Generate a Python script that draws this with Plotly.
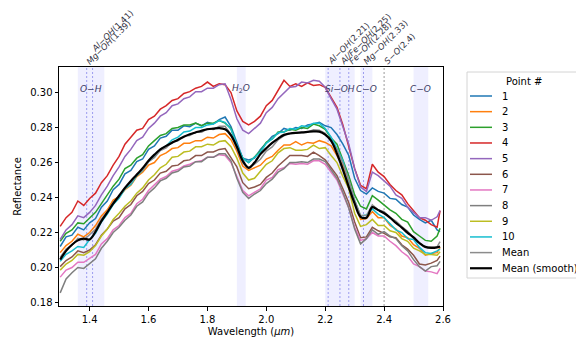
import numpy as np
import plotly.graph_objects as go

# ---------------- data ----------------
WL = [round(1.30 + 0.02 * i, 2) for i in range(65)] + [2.59]

P1 = [0.2120, 0.2175, 0.2185, 0.2230, 0.2215, 0.2255, 0.2280, 0.2345, 0.2380, 0.2445,
      0.2475, 0.2535, 0.2555, 0.2605, 0.2620, 0.2675, 0.2695, 0.2740, 0.2750, 0.2785,
      0.2785, 0.2810, 0.2805, 0.2825, 0.2810, 0.2830, 0.2820, 0.2845, 0.2860, 0.2805,
      0.2715, 0.2625, 0.2615, 0.2625, 0.2675, 0.2710, 0.2750, 0.2765, 0.2795, 0.2785,
      0.2800, 0.2795, 0.2815, 0.2820, 0.2830, 0.2810, 0.2800, 0.2760, 0.2705, 0.2640,
      0.2510, 0.2440, 0.2420, 0.2455, 0.2435, 0.2425, 0.2395, 0.2390, 0.2360, 0.2345,
      0.2300, 0.2275, 0.2255, 0.2270, 0.2215, 0.2205]
P2 = [0.2085, 0.2125, 0.2150, 0.2190, 0.2175, 0.2200, 0.2240, 0.2295, 0.2330, 0.2385,
      0.2405, 0.2445, 0.2470, 0.2520, 0.2545, 0.2585, 0.2600, 0.2640, 0.2655, 0.2680,
      0.2685, 0.2710, 0.2710, 0.2725, 0.2725, 0.2745, 0.2740, 0.2760, 0.2765, 0.2730,
      0.2665, 0.2580, 0.2555, 0.2570, 0.2585, 0.2620, 0.2635, 0.2670, 0.2700, 0.2700,
      0.2720, 0.2700, 0.2715, 0.2710, 0.2725, 0.2715, 0.2695, 0.2640, 0.2580, 0.2475,
      0.2375, 0.2275, 0.2280, 0.2320, 0.2285, 0.2285, 0.2240, 0.2220, 0.2180, 0.2170,
      0.2130, 0.2110, 0.2070, 0.2080, 0.2085, 0.2115]
P3 = [0.2150, 0.2195, 0.2215, 0.2255, 0.2250, 0.2285, 0.2315, 0.2365, 0.2415, 0.2465,
      0.2505, 0.2565, 0.2585, 0.2625, 0.2645, 0.2695, 0.2725, 0.2755, 0.2765, 0.2795,
      0.2800, 0.2815, 0.2815, 0.2825, 0.2810, 0.2825, 0.2825, 0.2840, 0.2825, 0.2795,
      0.2695, 0.2625, 0.2600, 0.2635, 0.2665, 0.2715, 0.2735, 0.2775, 0.2775, 0.2790,
      0.2785, 0.2800, 0.2795, 0.2820, 0.2810, 0.2790, 0.2740, 0.2705, 0.2615, 0.2525,
      0.2415, 0.2350, 0.2335, 0.2410, 0.2385, 0.2355, 0.2330, 0.2310, 0.2275, 0.2260,
      0.2205, 0.2180, 0.2155, 0.2150, 0.2180, 0.2225]
P4 = [0.2235, 0.2285, 0.2315, 0.2380, 0.2355, 0.2395, 0.2425, 0.2485, 0.2525, 0.2585,
      0.2635, 0.2705, 0.2745, 0.2785, 0.2795, 0.2845, 0.2865, 0.2905, 0.2925, 0.2955,
      0.2965, 0.2995, 0.3005, 0.3025, 0.3035, 0.3060, 0.3035, 0.3050, 0.3045, 0.3000,
      0.2895, 0.2835, 0.2815, 0.2835, 0.2865, 0.2925, 0.2955, 0.3010, 0.3070, 0.3035,
      0.3050, 0.3035, 0.3055, 0.3040, 0.3045, 0.3030, 0.2975, 0.2915, 0.2815, 0.2685,
      0.2565, 0.2470, 0.2450, 0.2590, 0.2545, 0.2520, 0.2475, 0.2440, 0.2415, 0.2365,
      0.2325, 0.2285, 0.2270, 0.2245, 0.2230, 0.2325]
P5 = [0.2160, 0.2215, 0.2245, 0.2295, 0.2285, 0.2315, 0.2355, 0.2415, 0.2465, 0.2525,
      0.2575, 0.2635, 0.2675, 0.2725, 0.2745, 0.2795, 0.2825, 0.2865, 0.2885, 0.2925,
      0.2935, 0.2965, 0.2975, 0.3005, 0.3005, 0.3025, 0.3025, 0.3045, 0.3050, 0.2960,
      0.2850, 0.2785, 0.2765, 0.2795, 0.2825, 0.2885, 0.2915, 0.2965, 0.2995, 0.3030,
      0.3035, 0.3060, 0.3055, 0.3070, 0.3065, 0.3030, 0.2965, 0.2905, 0.2805, 0.2705,
      0.2565, 0.2460, 0.2435, 0.2545, 0.2525, 0.2495, 0.2465, 0.2415, 0.2395, 0.2345,
      0.2315, 0.2285, 0.2285, 0.2270, 0.2290, 0.2325]
P6 = [0.2005, 0.2040, 0.2060, 0.2095, 0.2085, 0.2100, 0.2130, 0.2185, 0.2220, 0.2265,
      0.2285, 0.2335, 0.2360, 0.2410, 0.2435, 0.2480, 0.2500, 0.2540, 0.2550, 0.2580,
      0.2585, 0.2610, 0.2615, 0.2640, 0.2640, 0.2660, 0.2660, 0.2675, 0.2680, 0.2630,
      0.2575, 0.2485, 0.2450, 0.2460, 0.2475, 0.2515, 0.2540, 0.2580, 0.2610, 0.2640,
      0.2640, 0.2640, 0.2635, 0.2660, 0.2640, 0.2615, 0.2570, 0.2525, 0.2450, 0.2370,
      0.2260, 0.2170, 0.2175, 0.2230, 0.2210, 0.2195, 0.2175, 0.2170, 0.2130, 0.2105,
      0.2070, 0.2020, 0.2015, 0.2025, 0.2040, 0.2065]
P7 = [0.1945, 0.1985, 0.2000, 0.2030, 0.2030, 0.2050, 0.2075, 0.2135, 0.2165, 0.2215,
      0.2240, 0.2285, 0.2310, 0.2365, 0.2390, 0.2440, 0.2470, 0.2505, 0.2520, 0.2550,
      0.2560, 0.2580, 0.2590, 0.2605, 0.2610, 0.2630, 0.2630, 0.2645, 0.2640, 0.2600,
      0.2520, 0.2440, 0.2410, 0.2430, 0.2450, 0.2500, 0.2515, 0.2560, 0.2570, 0.2595,
      0.2590, 0.2595, 0.2590, 0.2610, 0.2610, 0.2590, 0.2545, 0.2500, 0.2420, 0.2340,
      0.2230, 0.2155, 0.2165, 0.2200, 0.2180, 0.2180, 0.2150, 0.2125, 0.2090, 0.2065,
      0.2020, 0.2005, 0.1980, 0.1975, 0.1965, 0.1995]
P8 = [0.1855, 0.1935, 0.1970, 0.2000, 0.1995, 0.2020, 0.2050, 0.2110, 0.2150, 0.2200,
      0.2230, 0.2270, 0.2300, 0.2350, 0.2375, 0.2425, 0.2455, 0.2495, 0.2510, 0.2540,
      0.2550, 0.2575, 0.2580, 0.2605, 0.2605, 0.2630, 0.2630, 0.2650, 0.2650, 0.2610,
      0.2510, 0.2430, 0.2395, 0.2420, 0.2440, 0.2480, 0.2505, 0.2545, 0.2565, 0.2600,
      0.2600, 0.2605, 0.2600, 0.2620, 0.2620, 0.2605, 0.2560, 0.2510, 0.2430, 0.2340,
      0.2220, 0.2135, 0.2165, 0.2215, 0.2190, 0.2205, 0.2180, 0.2165, 0.2125, 0.2095,
      0.2045, 0.2005, 0.1980, 0.2005, 0.2010, 0.2035]
P9 = [0.1985, 0.2020, 0.2040, 0.2075, 0.2070, 0.2090, 0.2125, 0.2180, 0.2220, 0.2275,
      0.2310, 0.2350, 0.2380, 0.2425, 0.2455, 0.2500, 0.2530, 0.2570, 0.2590, 0.2630,
      0.2635, 0.2660, 0.2665, 0.2690, 0.2690, 0.2705, 0.2700, 0.2720, 0.2725, 0.2690,
      0.2625, 0.2540, 0.2500, 0.2510, 0.2550, 0.2590, 0.2610, 0.2655, 0.2680, 0.2685,
      0.2670, 0.2670, 0.2675, 0.2700, 0.2680, 0.2685, 0.2640, 0.2600, 0.2520, 0.2450,
      0.2310, 0.2235, 0.2245, 0.2275, 0.2240, 0.2240, 0.2210, 0.2200, 0.2165, 0.2150,
      0.2110, 0.2095, 0.2075, 0.2075, 0.2070, 0.2090]
P10 = [0.2035, 0.2075, 0.2095, 0.2120, 0.2115, 0.2160, 0.2195, 0.2260, 0.2305, 0.2360,
       0.2395, 0.2450, 0.2475, 0.2525, 0.2555, 0.2605, 0.2630, 0.2675, 0.2695, 0.2730,
       0.2745, 0.2775, 0.2780, 0.2800, 0.2800, 0.2815, 0.2820, 0.2840, 0.2830, 0.2790,
       0.2700, 0.2625, 0.2600, 0.2630, 0.2660, 0.2710, 0.2735, 0.2770, 0.2775, 0.2795,
       0.2790, 0.2810, 0.2805, 0.2825, 0.2825, 0.2795, 0.2745, 0.2680, 0.2610, 0.2495,
       0.2385, 0.2295, 0.2300, 0.2335, 0.2305, 0.2285, 0.2250, 0.2215, 0.2200, 0.2165,
       0.2160, 0.2115, 0.2085, 0.2080, 0.2095, 0.2105]
MEAN_SMOOTH = [0.2045, 0.2095, 0.2130, 0.2155, 0.2165, 0.2160, 0.2205, 0.2265, 0.2315, 0.2365,
               0.2410, 0.2455, 0.2495, 0.2530, 0.2568, 0.2610, 0.2645, 0.2675, 0.2695, 0.2713,
               0.2730, 0.2748, 0.2762, 0.2772, 0.2782, 0.2790, 0.2794, 0.2797, 0.2790, 0.2755,
               0.2690, 0.2610, 0.2570, 0.2600, 0.2648, 0.2682, 0.2712, 0.2737, 0.2758, 0.2766,
               0.2770, 0.2772, 0.2775, 0.2778, 0.2777, 0.2760, 0.2725, 0.2650, 0.2560, 0.2460,
               0.2365, 0.2290, 0.2285, 0.2345, 0.2328, 0.2310, 0.2285, 0.2255, 0.2228, 0.2198,
               0.2172, 0.2140, 0.2118, 0.2112, 0.2115, 0.2120]

POINT_NAMES = ["1", "2", "3", "4", "5", "6", "7", "8", "9", "10"]
SERIES = [P1, P2, P3, P4, P5, P6, P7, P8, P9, P10]
COLORS = ["#1f77b4", "#ff7f0e", "#2ca02c", "#d62728", "#9467bd",
          "#8c564b", "#e377c2", "#7f7f7f", "#bcbd22", "#17becf"]
MEAN_COLOR = "#8c8c8c"
SMOOTH_COLOR = "black"

BAND_START = [1.36, 1.90, 2.20, 2.32, 2.50]
BAND_END = [1.45, 1.93, 2.30, 2.36, 2.55]
BAND_LABELS = ["<i>O−H</i>", "<i>H</i><sub>2</sub><i>O</i>", "<i>Si−OH</i>", "<i>C−O</i>", "<i>C−O</i>"]

FEATURE_POS = [1.39, 1.41, 2.21, 2.25, 2.28, 2.33, 2.40]
FEATURE_LABELS = ["<i>Mg−OH</i>(1.39)", "<i>Al−OH</i>(1.41)", "<i>Al−OH</i>(2.21)",
                  "<i>Al/Fe−OH</i>(2.25)", "<i>Fe−OH</i>(2.28)", "<i>Mg−OH</i>(2.33)",
                  "<i>S−O</i>(2.4)"]

X_TICKS = [1.4, 1.6, 1.8, 2.0, 2.2, 2.4, 2.6]
X_TICK_TEXT = ["1.4", "1.6", "1.8", "2.0", "2.2", "2.4", "2.6"]
Y_TICKS = [0.18, 0.20, 0.22, 0.24, 0.26, 0.28, 0.30]
Y_TICK_TEXT = ["0.18", "0.20", "0.22", "0.24", "0.26", "0.28", "0.30"]

# ---------------- figure ----------------
FONT = "DejaVu Sans"
W, H = 584, 339
OFF = 8  # the page body adds an 8 px offset; lay out in target-image pixels minus this
PL, PR, PT, PB = 59 - OFF, 443 - OFF, 67 - OFF, 306 - OFF   # plot box in figure pixels
ML, MR, MT, MB = PL, W - PR, PT, H - PB
PW, PH = PR - PL, PB - PT


def px2paper_x(px):
    return (px - OFF - PL) / PW


def px2paper_y(py):
    return (PB - (py - OFF)) / PH


fig = go.Figure()
for name, vals, col in zip(POINT_NAMES, SERIES, COLORS):
    fig.add_trace(go.Scatter(x=WL, y=vals, mode="lines", name=name, showlegend=False,
                             line=dict(color=col, width=1.5)))
mean_vals = np.mean(np.array(SERIES), axis=0)
fig.add_trace(go.Scatter(x=WL, y=mean_vals, mode="lines", name="Mean", showlegend=False,
                         line=dict(color=MEAN_COLOR, width=1.5)))
fig.add_trace(go.Scatter(x=WL, y=MEAN_SMOOTH, mode="lines", name="Mean (smooth)", showlegend=False,
                         line=dict(color=SMOOTH_COLOR, width=2.2, shape="spline")))

shapes = []
annotations = []
for x0, x1, lab in zip(BAND_START, BAND_END, BAND_LABELS):
    shapes.append(dict(type="rect", xref="x", yref="paper", x0=x0, x1=x1, y0=0, y1=1,
                       fillcolor="rgba(110,110,255,0.11)", line=dict(width=0), layer="below"))
    annotations.append(dict(x=(x0 + x1) / 2, y=0.91, xref="x", yref="paper", text=lab,
                            showarrow=False, font=dict(family=FONT, size=9, color="#3c3c66"),
                            xanchor="center", yanchor="middle"))
for xp, lab in zip(FEATURE_POS, FEATURE_LABELS):
    is_so = xp == 2.40
    shapes.append(dict(type="line", xref="x", yref="paper", x0=xp, x1=xp, y0=0, y1=1,
                       line=dict(color="rgba(70,70,70,0.8)" if is_so else "rgba(80,80,225,0.75)",
                                 width=0.7, dash="2px,2px"),
                       layer="below"))
    if xp == 1.41:
        xs, ys = -6, 10
    else:
        xs, ys = -5, -2
    annotations.append(dict(x=xp, y=1, xref="x", yref="paper", text=lab, textangle=-45,
                            showarrow=False, xanchor="left", yanchor="bottom",
                            xshift=xs, yshift=ys,
                            font=dict(family=FONT, size=8.5, color="#333344")))

# ---- legend drawn by hand (matplotlib-like spacing); coordinates in target pixels ----
LEG_LEFT, LEG_RIGHT, LEG_TOP, LEG_BOTTOM = 467, 582, 72, 278
shapes.append(dict(type="rect", xref="paper", yref="paper",
                   x0=px2paper_x(LEG_LEFT), x1=px2paper_x(LEG_RIGHT),
                   y0=px2paper_y(LEG_BOTTOM), y1=px2paper_y(LEG_TOP),
                   fillcolor="white", line=dict(color="#d4d4d4", width=1), layer="above"))
annotations.append(dict(x=px2paper_x(524), y=px2paper_y(81), xref="paper", yref="paper",
                        text="Point #", showarrow=False, xanchor="center", yanchor="middle",
                        font=dict(family=FONT, size=10, color="black")))
leg_names = POINT_NAMES + ["Mean", "Mean (smooth)"]
leg_colors = COLORS + [MEAN_COLOR, SMOOTH_COLOR]
leg_widths = [1.5] * 11 + [2.2]
for k, (nm, col, lw) in enumerate(zip(leg_names, leg_colors, leg_widths)):
    py = 96 + 15.66 * k
    shapes.append(dict(type="line", xref="paper", yref="paper",
                       x0=px2paper_x(470), x1=px2paper_x(492),
                       y0=px2paper_y(py), y1=px2paper_y(py),
                       line=dict(color=col, width=lw), layer="above"))
    annotations.append(dict(x=px2paper_x(500), y=px2paper_y(py), xref="paper", yref="paper",
                            text=nm, showarrow=False, xanchor="left", yanchor="middle",
                            font=dict(family=FONT, size=10, color="black")))

fig.update_layout(
    width=W, height=H,
    margin=dict(l=ML, r=MR, t=MT, b=MB, autoexpand=False),
    paper_bgcolor="white", plot_bgcolor="white",
    font=dict(family=FONT, size=10, color="black"),
    shapes=shapes, annotations=annotations,
    showlegend=False,
)
fig.update_xaxes(range=[1.296, 2.600], tickvals=X_TICKS, ticktext=X_TICK_TEXT,
                 showline=True, linecolor="black", linewidth=1, mirror=True,
                 ticks="outside", ticklen=3.5, tickcolor="black", showgrid=False, zeroline=False,
                 title=dict(text="Wavelength (<i>μm</i>)", standoff=4, font=dict(size=10)))
fig.update_yaxes(range=[0.178, 0.3146], tickvals=Y_TICKS, ticktext=Y_TICK_TEXT,
                 showline=True, linecolor="black", linewidth=1, mirror=True,
                 ticks="outside", ticklen=3.5, tickcolor="black", showgrid=False, zeroline=False,
                 title=dict(text="Reflectance", standoff=6, font=dict(size=10)))

fig.write_html("out.html")
